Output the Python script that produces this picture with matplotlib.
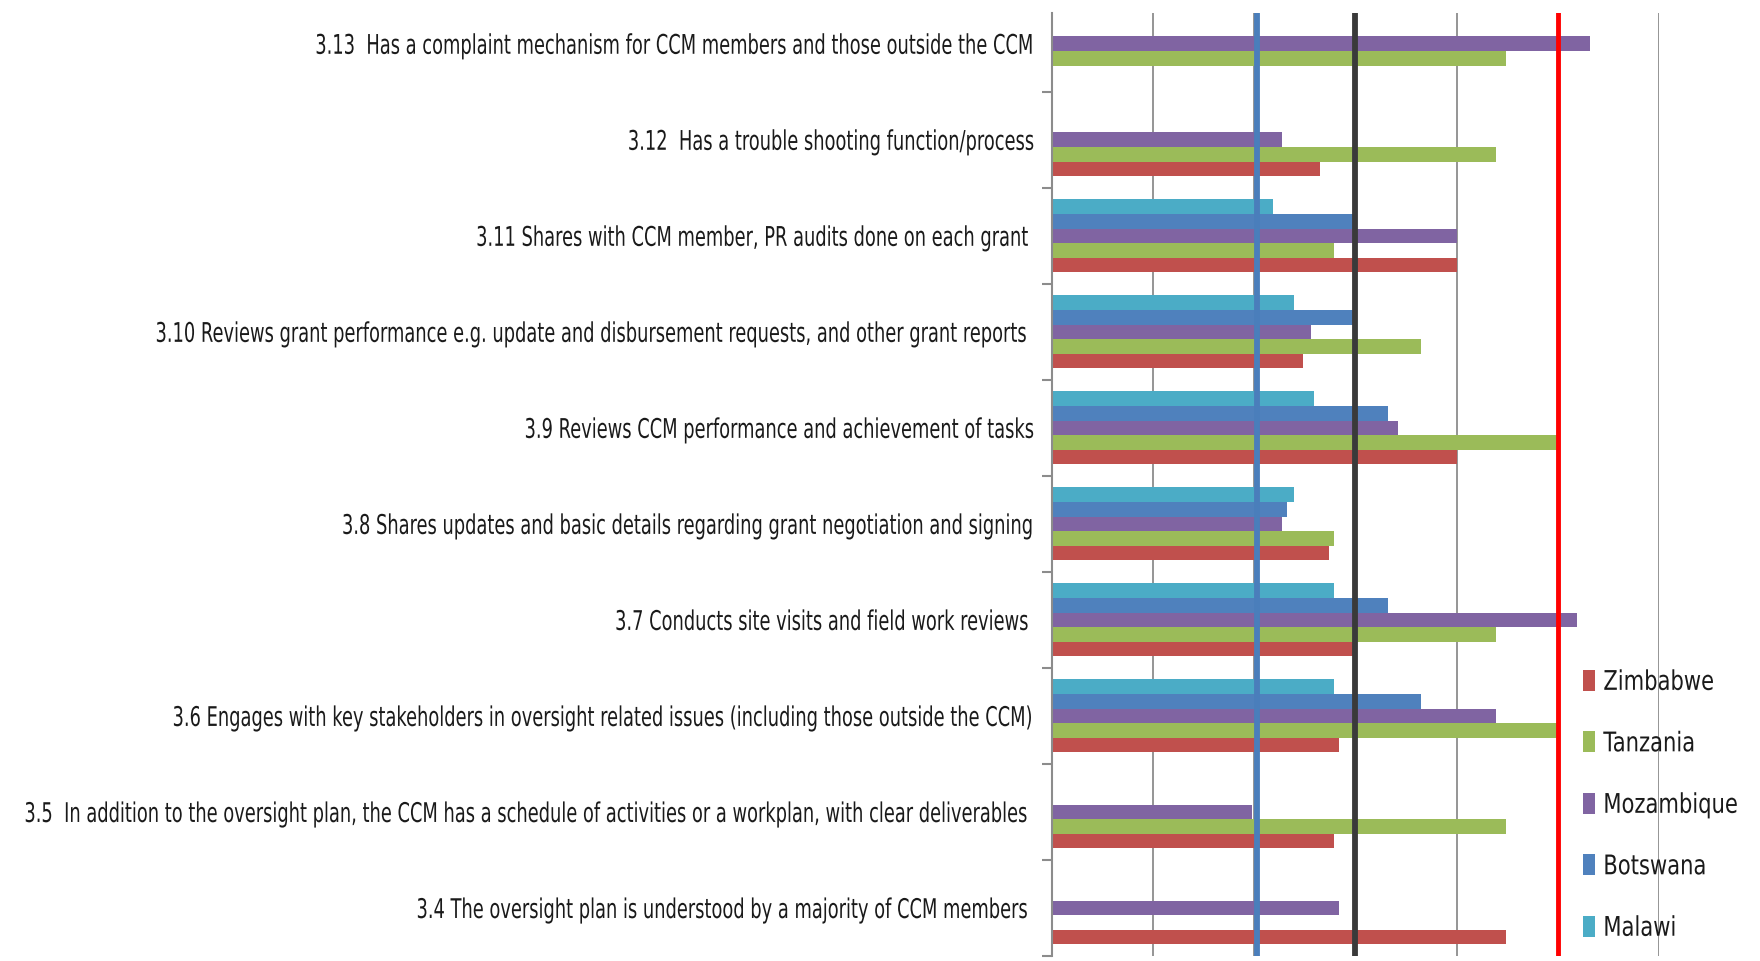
import numpy as np
import matplotlib
matplotlib.use("Agg")
import matplotlib.pyplot as plt
from matplotlib.patheffects import AbstractPathEffect
from matplotlib.transforms import Affine2D, Bbox

nan = np.nan

# categories, top to bottom as in the chart
categories = [
    "3.13  Has a complaint mechanism for CCM members and those outside the CCM",
    "3.12  Has a trouble shooting function/process",
    "3.11 Shares with CCM member, PR audits done on each grant ",
    "3.10 Reviews grant performance e.g. update and disbursement requests, and other grant reports ",
    "3.9 Reviews CCM performance and achievement of tasks",
    "3.8 Shares updates and basic details regarding grant negotiation and signing",
    "3.7 Conducts site visits and field work reviews ",
    "3.6 Engages with key stakeholders in oversight related issues (including those outside the CCM)",
    "3.5  In addition to the oversight plan, the CCM has a schedule of activities or a workplan, with clear deliverables ",
    "3.4 The oversight plan is understood by a majority of CCM members ",
]

countries = ["Zimbabwe", "Tanzania", "Mozambique", "Botswana", "Malawi"]
colors = ["#C0504D", "#9BBB59", "#8064A2", "#4F81BD", "#4BACC6"]

zimbabwe   = [nan,  2.65, 4.00, 2.48, 4.00, 2.74, 3.00, 2.84, 2.79, 4.49]
tanzania   = [4.49, 4.39, 2.79, 3.65, 5.00, 2.79, 4.39, 5.00, 4.49, nan]
mozambique = [5.32, 2.27, 4.00, 2.56, 3.42, 2.27, 5.19, 4.39, 1.98, 2.84]
botswana   = [nan,  nan,  3.00, 3.00, 3.32, 2.32, 3.32, 3.65, nan,  nan]
malawi     = [nan,  nan,  2.18, 2.39, 2.59, 2.39, 2.79, 2.79, nan,  nan]

# reference lines
blue_line = 2.03
black_line = 3.0
red_line = 5.0

series = [zimbabwe, tanzania, mozambique, botswana, malawi]


class Squeeze(AbstractPathEffect):
    """Narrow the text horizontally (fake condensed font).
    width: layout width in pixels, used to keep the right edge in place."""

    def __init__(self, sx, width=None):
        super().__init__()
        self.sx = sx
        self.width = width

    def draw_path(self, renderer, gc, tpath, affine, rgbFace=None):
        x0 = affine.transform((0, 0))[0]
        if self.width is not None:
            x0 += self.width
        aff = affine + Affine2D().translate(-x0, 0).scale(self.sx, 1).translate(x0, 0)
        renderer.draw_path(gc, tpath, aff, rgbFace)


def squeeze_text(t, sx, renderer, keep_right):
    bb0 = t.get_window_extent(renderer)
    t.set_path_effects([Squeeze(sx, bb0.width if keep_right else None)])
    orig = t.get_window_extent

    def extent(renderer=None, dpi=None):
        bb = orig(renderer, dpi)
        if keep_right:
            return Bbox([[bb.x1 - bb.width * sx, bb.y0], [bb.x1, bb.y1]])
        return Bbox([[bb.x0, bb.y0], [bb.x0 + bb.width * sx, bb.y1]])

    t.get_window_extent = extent


FS = 19.5

fig = plt.figure(figsize=(17.6, 9.62), dpi=100)
ax = fig.add_axes([0.5977, 0.0052, 0.3449, 0.9802])

n = len(categories)
y = np.arange(n)[::-1]
h = 0.152
for k, (vals, name, c) in enumerate(zip(series, countries, colors)):
    ax.barh(y + (k - 2) * h, vals, height=h, color=c, label=name, zorder=2)

ax.axvline(blue_line, color="#4A7EBB", lw=4.2, zorder=3)
ax.axvline(black_line, color="#3A3A3A", lw=4.2, zorder=3)
ax.axvline(red_line, color="#FF0000", lw=3.5, zorder=3)

ax.set_xticks([1, 2, 3, 4, 5, 6])
ax.set_xticklabels([])
ax.tick_params(axis="x", length=0)
ax.grid(axis="x", color="#8C8C8C", lw=1.3, zorder=0)

ax.set_yticks(y)
ax.set_yticklabels(categories, fontsize=FS, color="#1A1A1A")
ax.set_yticks(np.arange(n + 1) - 0.5, minor=True)
ax.tick_params(axis="y", which="major", length=0, pad=12)
ax.tick_params(axis="y", which="minor", length=7, width=1.5, color="#8C8C8C")
ax.set_xlim(0, 6)
ax.set_ylim(-0.5, 9.32)

for s in ["top", "right", "bottom"]:
    ax.spines[s].set_visible(False)
ax.spines["left"].set_color("#8C8C8C")
ax.spines["left"].set_linewidth(1.5)

handles, labels = ax.get_legend_handles_labels()
leg = fig.legend(handles, labels, loc="upper left", bbox_to_anchor=(0.8856, 0.328),
                 frameon=False, fontsize=FS,
                 handlelength=0.45, handleheight=0.81, handletextpad=0.3,
                 labelspacing=1.31)

# squeeze the text so its width matches the original narrow font
fig.canvas.draw()
r = fig.canvas.get_renderer()
w = ax.get_yticklabels()[0].get_window_extent(r).width
for t in ax.get_yticklabels():
    squeeze_text(t, 720 / w, r, True)
lw = leg.get_texts()[0].get_window_extent(r).width
for t in leg.get_texts():
    t.set_color("#1A1A1A")
    squeeze_text(t, 111 / lw, r, False)

fig.savefig("out.png", dpi=100)
